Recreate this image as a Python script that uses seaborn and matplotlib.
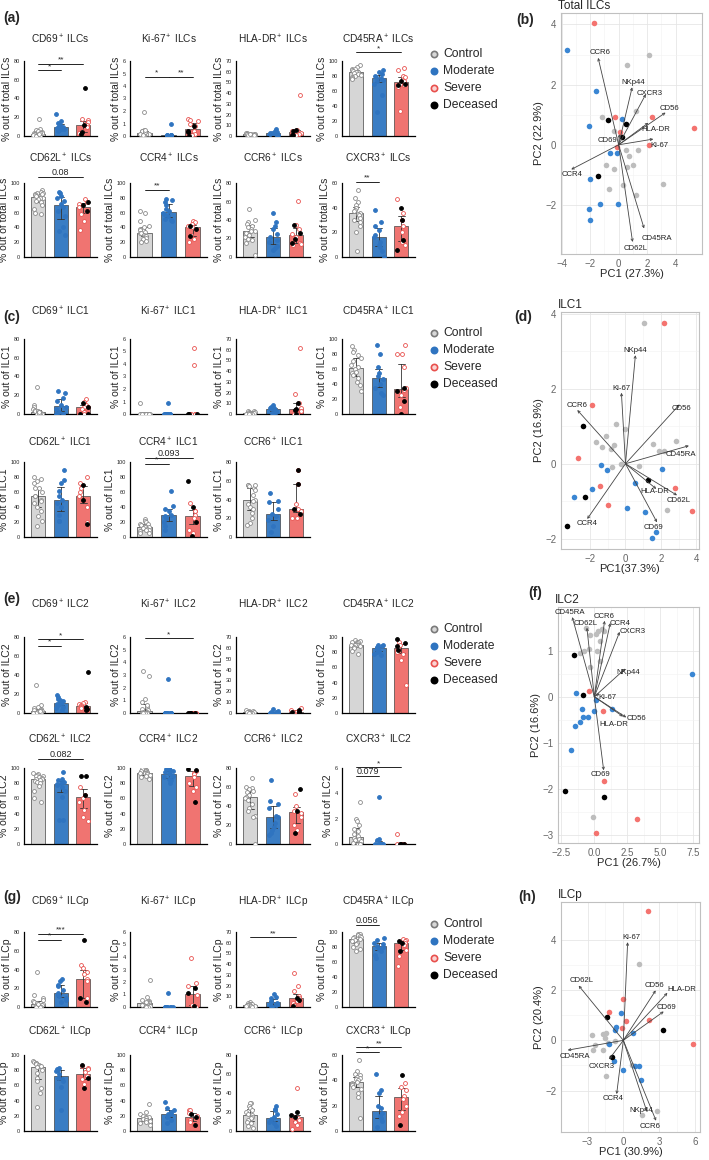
import numpy as np
import pandas as pd
import matplotlib
matplotlib.use("Agg")
import matplotlib.pyplot as plt
from matplotlib.lines import Line2D
import seaborn as sns

sns.set_style("white")
plt.rcParams['font.family'] = ['Liberation Sans', 'DejaVu Sans']
plt.rcParams['mathtext.fontset'] = 'custom'
plt.rcParams['mathtext.rm'] = 'Liberation Sans'
plt.rcParams['mathtext.it'] = 'Liberation Sans:italic'
plt.rcParams['mathtext.bf'] = 'Liberation Sans:bold'

W, H = 709, 1160
groups = ["Control", "Moderate", "Severe"]
bar_colors = ["#d6d6d6", "#3a7dc4", "#f07471"]

# ---- bar panel data: (control, moderate, severe alive, severe deceased) ----
ilcs_cd69 = ([18, 8, 6, 5, 4, 3, 3, 2, 2, 1, 1, 1, 0.5, 0.5, 3, 2],
             [24, 16, 14, 12, 11, 10, 10, 9, 8, 7, 6, 5],
             [18, 17, 15, 13, 12, 10, 5, 3], [51, 12, 4, 2])
ilcs_ki67 = ([1.9, 0.5, 0.4, 0.3, 0.3, 0.2, 0.2, 0.2, 0.1, 0.1, 0.1, 0.4, 0.3, 0.2, 0.5, 0.1],
             [1.0, 0.1, 0.05, 0.05, 0.05, 0.05, 0.05, 0.0, 0.0, 0.0],
             [1.4, 1.3, 1.2, 1.0, 0.8, 0.4, 0.2, 0.1], [0.8, 0.4, 0.3, 0.0])
ilcs_hladr = ([3, 2.5, 2, 2, 1.5, 1.5, 1, 1, 1, 0.5, 0.5, 2, 1, 1.5, 0.8],
              [7, 5, 4, 4, 3, 3, 2.5, 2, 2, 1.5, 1],
              [38, 6, 5, 4, 3, 2, 1], [6, 5, 1, 0.5])
ilcs_cd45ra = ([95, 92, 90, 90, 88, 87, 86, 85, 85, 84, 83, 82, 80, 79, 78, 76],
               [88, 86, 83, 80, 79, 77, 75, 74, 70, 55, 32],
               [91, 88, 80, 79, 74, 69, 68, 66, 33], [74, 70, 68])
ilcs_cd62l = ([90, 88, 87, 86, 85, 84, 82, 80, 80, 79, 76, 74, 70, 65, 60, 58, 85, 83],
              [88, 86, 82, 80, 76, 72, 68, 62, 55, 40, 35, 30],
              [78, 75, 72, 68, 62, 58, 48, 37], [75, 70, 62])
ilcs_ccr4 = ([62, 60, 48, 42, 40, 38, 36, 34, 33, 32, 30, 29, 28, 26, 24, 22, 20],
             [78, 77, 75, 70, 65, 62, 60, 58, 55, 52, 50, 48],
             [48, 47, 45, 42, 40, 30, 25, 20], [42, 38, 28])
ilcs_ccr6 = ([52, 40, 38, 36, 34, 30, 28, 26, 24, 22, 20, 18, 15, 32, 28, 2],
             [48, 38, 33, 30, 25, 22, 18, 16, 12, 10, 8],
             [61, 35, 30, 25, 22, 15, 14, 13], [35, 26, 20, 15])
ilcs_cxcr3 = ([54, 48, 45, 42, 40, 38, 37, 36, 35, 34, 32, 30, 28, 25, 20, 5],
              [38, 28, 25, 22, 18, 16, 12, 10, 8, 5, 0],
              [47, 36, 30, 25, 20, 12, 10], [40, 30, 14, 6])

ilc1_cd69 = ([29, 10, 8, 5, 4, 3, 3, 2, 1, 1, 0.5, 0, 0, 0, 2],
             [24, 22, 17, 14, 10, 8, 5, 2, 0, 0],
             [16, 13, 10, 8, 8, 5, 2, 0, 0], [12, 8, 0, 0])
ilc1_ki67 = ([0.9, 0, 0, 0, 0, 0, 0, 0, 0, 0, 0, 0, 0, 0],
             [0.9, 0, 0, 0, 0, 0, 0, 0, 0],
             [5.3, 3.9, 0, 0, 0, 0, 0], [0, 0, 0])
ilc1_hladr = ([3, 2.5, 2, 1.5, 1, 1, 0.5, 0.5, 0, 0, 0, 0],
              [8, 7, 6, 6, 6, 5, 4, 3, 2, 1, 0],
              [62, 19, 10, 6, 3, 1, 0, 0], [10, 5, 4, 0])
ilc1_cd45ra = ([90, 85, 82, 78, 74, 70, 65, 62, 60, 56, 55, 52, 48, 42, 38, 30],
               [92, 80, 62, 55, 50, 46, 40, 35, 28, 25],
               [92, 80, 80, 62, 35, 32, 25, 10], [35, 30, 18, 0])
ilc1_cd62l = ([80, 77, 75, 72, 65, 60, 55, 50, 48, 45, 40, 35, 28, 22, 15, 65, 55],
              [90, 76, 72, 62, 55, 50, 45, 40, 30, 22, 22],
              [80, 72, 65, 60, 55, 50, 40, 20], [70, 50, 18])
ilc1_ccr4 = ([24, 22, 20, 18, 17, 16, 15, 14, 13, 12, 11, 10, 9, 8, 6, 5],
             [61, 42, 38, 35, 30, 28, 25, 20, 15, 10],
             [45, 35, 35, 30, 25, 20, 10, 5], [75, 40, 20, 2])
ilc1_ccr6 = ([56, 55, 54, 52, 50, 45, 40, 38, 35, 32, 30, 26, 20, 15, 13, 55],
             [47, 38, 37, 30, 25, 22, 18, 12, 5],
             [72, 57, 35, 30, 28, 20, 20], [72, 57, 30, 25])

ilc2_cd69 = ([29, 8, 6, 5, 4, 3, 3, 2, 2, 1, 1, 0.5, 0.5, 0, 2],
             [19, 17, 15, 14, 13, 12, 11, 10, 9, 8, 6, 5, 3],
             [12, 11, 10, 8, 7, 6, 5], [43, 6, 4, 3])
ilc2_ki67 = ([3.3, 2.9, 1.1, 0.9, 0.5, 0.3, 0.2, 0.1, 0.05, 0, 0, 0, 0, 0, 0, 0.6],
             [2.7, 0, 0, 0, 0, 0, 0, 0, 0, 0],
             [0, 0, 0, 0, 0, 0], [0, 0, 0, 0])
ilc2_hladr = ([3, 2, 1.5, 1, 1, 0.5, 0.5, 0, 0, 0],
              [4, 2, 1, 0.5, 0, 0, 0, 0],
              [5, 3, 2, 1, 0.5, 0], [3, 1, 0.5, 0])
ilc2_cd45ra = ([96, 95, 94, 93, 93, 92, 91, 90, 90, 89, 88, 87, 85, 82, 78],
               [90, 89, 88, 87, 86, 85, 84, 82, 80, 78, 76],
               [93, 90, 86, 80, 78, 70, 37], [97, 92, 88, 83])
ilc2_cd62l = ([93, 92, 91, 90, 89, 88, 87, 86, 85, 84, 83, 82, 80, 76, 70, 60, 55],
              [95, 86, 84, 82, 80, 79, 78, 75, 70, 62, 32, 32],
              [75, 65, 60, 55, 45, 35, 30], [90, 90, 65])
ilc2_ccr4 = ([99, 98, 97, 96, 96, 95, 94, 93, 93, 92, 91, 90, 88, 86],
             [100, 99, 98, 96, 95, 93, 92, 90, 88, 86, 84, 80],
             [96, 94, 92, 88, 80, 75, 70], [99, 97, 55])
ilc2_ccr6 = ([70, 60, 59, 58, 56, 55, 52, 50, 48, 46, 42, 38, 35, 30, 28, 0],
             [67, 45, 42, 38, 30, 28, 22, 18, 15, 12, 10],
             [53, 40, 35, 33, 28, 20, 15], [58, 35, 12])
ilc2_cxcr3 = ([3.3, 2.0, 1.8, 1.5, 1.2, 1.0, 0.8, 0.6, 0.5, 0.4, 0.3, 0.2, 0.1, 0, 0, 0],
              [3.7, 0.4, 0.3, 0, 0, 0, 0, 0, 0, 0],
              [0.8, 0, 0, 0, 0, 0], [0, 0, 0])

ilcp_cd69 = ([37, 13, 10, 8, 6, 5, 4, 3, 2, 2, 1, 1, 0.5, 0, 0, 3],
             [30, 28, 24, 22, 18, 15, 13, 12, 10, 8, 5],
             [45, 42, 37, 35, 30, 28, 10, 5], [72, 10, 5])
ilcp_ki67 = ([2.2, 0.8, 0.6, 0.5, 0.4, 0.3, 0.3, 0.2, 0.2, 0.1, 0.1, 0.05, 0, 0, 0.4],
             [1.1, 0, 0, 0, 0, 0, 0, 0, 0, 0],
             [3.9, 1.9, 1.7, 1.0, 0.2, 0, 0], [1.5, 1.1, 0.1])
ilcp_hladr = ([5, 4, 3, 3, 2.5, 2, 2, 1.5, 1, 1, 0.5, 0],
              [12, 9, 8, 6, 5, 4, 3, 2, 1, 0],
              [32, 20, 15, 10, 8, 6, 4, 2], [8, 7, 1])
ilcp_cd45ra = ([98, 97, 96, 95, 94, 93, 92, 91, 90, 88, 86, 84, 80, 77, 75],
               [92, 89, 86, 84, 82, 80, 78, 75, 70, 66],
               [91, 90, 88, 86, 83, 76, 68, 55], [88, 86, 75])
ilcp_cd62l = ([92, 91, 90, 89, 88, 87, 86, 85, 84, 80, 76, 70, 66, 57, 50, 32],
              [83, 81, 80, 79, 75, 70, 68, 66, 58, 28],
              [85, 83, 82, 78, 72, 68, 62], [87, 70, 57])
ilcp_ccr4 = ([36, 25, 22, 20, 19, 18, 17, 16, 15, 14, 13, 12, 10, 8],
             [38, 30, 28, 25, 23, 22, 20, 18, 15, 10],
             [28, 27, 24, 20, 15, 12, 8], [22, 18, 8])
ilcp_ccr6 = ([30, 29, 26, 24, 22, 20, 18, 17, 15, 14, 12, 10, 8, 5, 3],
             [26, 23, 22, 18, 15, 13, 12, 10, 8, 5],
             [45, 16, 14, 12, 10, 6, 2], [20, 17, 15])
ilcp_cxcr3 = ([56, 47, 45, 44, 43, 42, 41, 40, 39, 38, 37, 36, 35, 33, 30, 27, 10],
              [45, 32, 30, 20, 18, 14, 12, 10, 8, 3],
              [38, 35, 32, 28, 25, 20, 15, 12], [44, 5])

# ---- PCA data (PC1, PC2) ----
b_gray = [(2.16, 2.97), (0.58, 2.66), (-1.16, 0.94), (1.21, 1.13), (-0.35, 0.45), (0.53, -0.16),
          (0.70, -0.36), (1.37, -0.16), (-0.88, -0.68), (-0.35, -0.79), (1.0, -0.66), (0.58, -0.74),
          (-0.67, -1.47), (0.30, -1.35), (1.19, -1.68), (3.09, -1.30)]
b_blue = [(-3.6, 3.14), (-1.60, 1.79), (-2.09, 0.61), (0.26, 0.86), (-0.63, -0.26), (-0.12, -0.28),
          (-1.98, -1.15), (-1.28, -1.98), (-0.07, -1.98), (-2.07, -2.13), (-1.98, -2.50)]
b_red = [(-1.70, 4.04), (-0.28, 0.94), (0.12, 0.44), (-0.09, -0.09), (2.35, 0.92), (2.16, 0.0), (5.30, 0.55)]
b_black = [(-0.72, 0.83), (0.49, 0.69), (0.21, 0.25), (-1.44, -1.04)]
b_arrows = [("CCR6", -1.44, 2.89, -1.28, 3.07), ("NKp44", 0.95, 1.91, 1.05, 2.07),
            ("CXCR3", 1.91, 1.68, 2.21, 1.72), ("CD56", 3.30, 1.07, 3.60, 1.22),
            ("HLA-DR", 2.09, 0.73, 2.60, 0.50), ("Ki-67", 2.44, 0.19, 2.86, -0.03),
            ("CD69", 0.05, 0.35, -0.81, 0.15), ("CCR4", -3.33, -0.82, -3.26, -0.98),
            ("CD45RA", 1.79, -2.78, 2.72, -3.11), ("CD62L", 0.98, -3.23, 1.16, -3.44)]

d_gray = [(1.05, 3.75), (-0.51, 1.06), (0, 0.92), (-1.11, 0.73), (-1.67, 0.59), (-0.64, 0.50),
          (-1.33, 0.44), (-0.83, 0.39), (1.54, 0.52), (1.88, 0.34), (2.18, 0.34), (2.85, 0.61),
          (-0.24, -0.02), (-0.75, -0.10), (0.77, -0.07), (2.36, -1.23)]
d_blue = [(-1.41, -0.03), (-1.07, -0.17), (-1.89, -0.68), (-2.91, -0.88), (0.51, -0.50), (2.06, -0.13),
          (0.11, -1.18), (1.09, -1.29), (1.71, -1.81), (1.50, -1.99)]
d_red = [(2.18, 3.75), (-1.89, 1.57), (-2.70, 0.15), (-1.46, -0.58), (-0.96, -1.09), (2.78, -0.64), (3.77, -1.25)]
d_black = [(-2.38, 1.01), (-2.27, -0.88), (1.28, -0.42), (-3.30, -1.65)]
d_arrows = [("NKp44", 0.56, 2.89, 0.53, 3.01), ("Ki-67", -0.23, 1.89, -0.23, 2.01),
            ("CCR6", -2.72, 1.43, -2.76, 1.55), ("CD56", 3.06, 1.58, 3.15, 1.46),
            ("CD45RA", 3.58, 0.48, 3.15, 0.24), ("HLA-DR", 1.74, -0.67, 1.65, -0.74),
            ("CD62L", 2.91, -0.84, 3.00, -0.97), ("CD69", 1.78, -1.56, 1.59, -1.71),
            ("CCR4", -2.16, -1.47, -2.14, -1.58)]

f_gray = [(-0.66, 1.50), (-0.35, 1.34), (0.28, 1.43), (0.73, 1.43), (0.40, 1.21), (-1.11, 0.94),
          (-0.81, 0.99), (-0.40, 1.03), (0.20, 1.00), (0.45, 0.77), (-0.35, 0.64), (0.58, 1.47),
          (0.15, 1.37), (-0.10, -2.61)]
f_blue = [(7.42, 0.49), (-1.41, 0.07), (0.13, -0.07), (-0.91, -0.26), (-0.03, -0.30), (1.36, -0.26),
          (-0.86, -0.45), (-0.48, -0.45), (-1.09, -0.56), (-1.44, -0.64), (-1.77, -1.15)]
f_red = [(-0.43, 0.12), (0.68, -0.32), (0.73, -1.83), (3.21, -2.66), (0.13, -2.96)]
f_black = [(-1.57, 0.90), (-0.83, 0.04), (0.73, -2.17), (-2.20, -2.05)]
f_arrows = [("CD45RA", -1.67, 1.73, -1.87, 1.83), ("CD62L", -0.56, 1.50, -0.66, 1.59),
            ("CCR6", 0.78, 1.65, 0.71, 1.75), ("CCR4", 1.21, 1.60, 1.92, 1.59),
            ("CXCR3", 1.92, 1.41, 2.93, 1.41), ("NKp44", 2.35, 0.61, 2.55, 0.52),
            ("Ki-67", 0.40, 0.07, 0.96, -0.01), ("CD56", 2.42, -0.45, 3.18, -0.47),
            ("HLA-DR", 2.17, -0.43, 1.49, -0.60), ("CD69", 0.71, -1.60, 0.45, -1.70)]

h_gray = [(1.31, 3.06), (-2.60, 0.22), (-1.73, 0.27), (-1.48, 0.30), (-1.56, 0.10), (-2.40, -0.17),
          (-2.57, -0.38), (-1.73, -0.37), (-1.28, -0.09), (-0.70, -0.04), (0.70, -0.98),
          (-1.48, -1.41), (1.54, -2.97), (2.79, -2.82)]
h_blue = [(-0.17, 1.08), (-0.59, 0.55), (-0.67, 0.42), (-1.23, -0.13), (0.81, 0.30), (-0.81, -0.83),
          (0, -1.17), (1.01, -1.04), (1.31, -1.04), (1.45, -1.58)]
h_red = [(2.04, 5.14), (0, 1.63), (-1.23, 1.13), (0.20, 0.77), (-0.11, 0.51), (2.18, 0.81), (5.87, -0.13)]
h_black = [(-1.40, 0.94), (3.30, 0.40), (-0.92, -0.65)]
h_arrows = [("Ki-67", 0.36, 3.91, 0.70, 4.11), ("CD62L", -3.74, 2.18, -3.49, 2.37),
            ("CD56", 2.71, 1.99, 2.57, 2.19), ("HLA-DR", 3.69, 1.89, 4.89, 2.02),
            ("CD69", 3.38, 1.15, 3.63, 1.30), ("CD45RA", -4.66, -0.39, -4.05, -0.65),
            ("CXCR3", -1.20, -0.76, -1.82, -1.04), ("CCR4", -0.56, -2.14, -0.84, -2.32),
            ("NKp44", 1.96, -2.82, 1.54, -2.80), ("CCR6", 2.74, -3.20, 2.23, -3.43)]

fig = plt.figure(figsize=(W / 100, H / 100), dpi=100)


def px_axes(x0, y0, x1, y1):
    return fig.add_axes([x0 / W, 1 - y1 / H, (x1 - x0) / W, (y1 - y0) / H])


def bar_panel(ax, data, ymax, step, ylabel, brackets):
    ctrl, mod, sev, dec = data
    df = pd.DataFrame({
        "group": ["Control"] * len(ctrl) + ["Moderate"] * len(mod) + ["Severe"] * (len(sev) + len(dec)),
        "value": list(ctrl) + list(mod) + list(sev) + list(dec),
        "status": ["Control"] * len(ctrl) + ["Moderate"] * len(mod) + ["Severe"] * len(sev) + ["Deceased"] * len(dec),
    })
    sns.barplot(data=df, x="group", y="value", hue="group", order=groups, hue_order=groups,
                palette=bar_colors, saturation=1, estimator="median", errorbar=("pi", 50), capsize=0.3,
                width=0.62, edgecolor="#444444", linewidth=0.5,
                err_kws={"linewidth": 0.6, "color": "#333333"}, legend=False, ax=ax)
    styles = {"Control": ("white", "#8a8a8a"), "Moderate": ("#2f74c0", "#2f74c0"),
              "Severe": ("white", "#e8504d"), "Deceased": ("black", "black")}
    for st, (face, edge) in styles.items():
        sub = df[df.status == st]
        if len(sub) == 0:
            continue
        sns.stripplot(data=sub, x="group", y="value", order=groups, color=face, edgecolor=edge,
                      linewidth=0.6, size=2.8, jitter=0.22, ax=ax, zorder=3)
    ax.set_ylim(0, ymax)
    ax.set_yticks(np.arange(0, ymax + 1e-9, step))
    ax.set_xlim(-0.62, 2.6)
    ax.set_xticks([])
    ax.set_xlabel("")
    ax.set_ylabel(ylabel, fontsize=7.5, labelpad=1)
    ax.tick_params(axis="y", labelsize=4, length=2, width=0.6, pad=1)
    sns.despine(ax=ax)
    for sp in ["left", "bottom"]:
        ax.spines[sp].set_linewidth(0.9)
        ax.spines[sp].set_color("black")
    for i, j, y, lab in brackets:
        ax.plot([i, j], [y, y], color="black", lw=0.6, clip_on=False)
        ax.text((i + j) / 2, y, lab, ha="center", va="bottom",
                fontsize=6 if "*" in lab else 6.5, clip_on=False)


col_x = [(24, 97), (130, 207), (236, 310), (342, 415)]

sections = [
    ("ILCs", "% out of total ILCs", [(61, 136, 39), (183, 257, 158)], [
        [("CD69", ilcs_cd69, 80, 20, [(0, 1, 70, "*"), (0, 2, 77, "**")]),
         ("Ki-67", ilcs_ki67, 6, 1, [(0, 1, 4.75, "*"), (1, 2, 4.75, "**")]),
         ("HLA-DR", ilcs_hladr, 70, 10, []),
         ("CD45RA", ilcs_cd45ra, 100, 20, [(0, 2, 112, "*")])],
        [("CD62L", ilcs_cd62l, 100, 20, [(0, 2, 108, "0.08")]),
         ("CCR4", ilcs_ccr4, 100, 20, [(0, 1, 91, "**")]),
         ("CCR6", ilcs_ccr6, 80, 20, []),
         ("CXCR3", ilcs_cxcr3, 60, 20, [(0, 1, 61, "**")])]]),
    ("ILC1", "% out of ILC1", [(339, 414, 311), (462, 537, 442)], [
        [("CD69", ilc1_cd69, 80, 20, []), ("Ki-67", ilc1_ki67, 6, 1, []),
         ("HLA-DR", ilc1_hladr, 70, 10, []), ("CD45RA", ilc1_cd45ra, 100, 20, [])],
        [("CD62L", ilc1_cd62l, 100, 20, []),
         ("CCR4", ilc1_ccr4, 100, 20, [(0, 1, 98, "*"), (0, 2, 105, "0.093")]),
         ("CCR6", ilc1_ccr6, 80, 20, [])]]),
    ("ILC2", "% out of ILC2", [(637, 713, 604), (768, 844, 739)], [
        [("CD69", ilc2_cd69, 80, 20, [(0, 1, 71, "*"), (0, 2, 78, "*")]),
         ("Ki-67", ilc2_ki67, 6, 1, [(0, 2, 5.9, "*")]),
         ("HLA-DR", ilc2_hladr, 70, 10, []),
         ("CD45RA", ilc2_cd45ra, 100, 20, [])],
        [("CD62L", ilc2_cd62l, 100, 20, [(0, 2, 112, "0.082")]),
         ("CCR4", ilc2_ccr4, 100, 20, []),
         ("CCR6", ilc2_ccr6, 80, 20, []),
         ("CXCR3", ilc2_cxcr3, 6, 2, [(0, 1, 5.4, "0.079"), (0, 2, 6.05, "*")])]]),
    ("ILCp", "% out of ILCp", [(932, 1007, 902), (1055, 1131, 1032)], [
        [("CD69", ilcp_cd69, 80, 20, [(0, 1, 72, "*"), (0, 2, 78, "***")]),
         ("Ki-67", ilcp_ki67, 6, 1, []),
         ("HLA-DR", ilcp_hladr, 70, 10, [(0, 2, 65, "**")]),
         ("CD45RA", ilcp_cd45ra, 100, 20, [(0, 1, 109, "0.056")])],
        [("CD62L", ilcp_cd62l, 100, 20, []),
         ("CCR4", ilcp_ccr4, 100, 20, []),
         ("CCR6", ilcp_ccr6, 80, 20, []),
         ("CXCR3", ilcp_cxcr3, 60, 20, [(0, 1, 62, "*"), (0, 2, 66, "**")])]]),
]

np.random.seed(3)
for cell, ylab, rows, panels in sections:
    for (top, bot, ty), row in zip(rows, panels):
        for (x0, x1), (mk, data, ymax, step, br) in zip(col_x, row):
            ax = px_axes(x0, top, x1, bot)
            bar_panel(ax, data, ymax, step, ylab, br)
            fig.text((x0 + x1) / 2 / W, 1 - ty / H, f"{mk}$^+$ {cell}", ha="center", va="center", fontsize=7.3)

# legends
legend_items = [("Control", "#d8d8d8", "#7a7a7a"), ("Moderate", "#2f74c0", "#2f74c0"),
                ("Severe", "#fbd3d2", "#e8504d"), ("Deceased", "black", "black")]
for y0 in [54, 333, 629, 924]:
    for k, (lab, face, edge) in enumerate(legend_items):
        yy = 1 - (y0 + 17 * k) / H
        fig.add_artist(Line2D([434 / W], [yy], marker="o", ms=4.5, mfc=face, mec=edge, mew=1.2,
                              transform=fig.transFigure))
        fig.text(443 / W, yy, lab, va="center", ha="left", fontsize=8.7)

# panel letters
for lab, x, y in [("(a)", 3, 18), ("(c)", 3, 317), ("(e)", 3, 599), ("(g)", 3, 897),
                  ("(b)", 516, 20), ("(d)", 514, 317), ("(f)", 528, 593), ("(h)", 518, 897)]:
    fig.text(x / W, 1 - y / H, lab, fontsize=10, fontweight="bold", va="center", ha="left")


def pca_panel(ax, pts, arrows, xlim, ylim, xticks, yticks, xlab, ylab, title, xfmt=None):
    ax.set_facecolor("white")
    for p, c in zip(pts, ["#bdbdbd", "#3a86d3", "#f4736f", "black"]):
        xs, ys = zip(*p)
        sns.scatterplot(x=list(xs), y=list(ys), color=c, s=16, linewidth=0, ax=ax, zorder=3)
    for name, ex, ey, lx, ly in arrows:
        ax.annotate("", xy=(ex, ey), xytext=(0, 0),
                    arrowprops=dict(arrowstyle="->", lw=0.6, color="#444444",
                                    shrinkA=0, shrinkB=0, mutation_scale=4), zorder=4)
        ax.text(lx, ly, name, fontsize=5.6, ha="center", va="center", color="#222222", zorder=5)
    ax.set_xlim(*xlim)
    ax.set_ylim(*ylim)
    ax.set_xticks(xticks)
    ax.set_yticks(yticks)
    if xfmt:
        ax.set_xticklabels(xfmt)
    ax.set_xticks([(a + b) / 2 for a, b in zip(xticks[:-1], xticks[1:])], minor=True)
    ax.set_yticks([(a + b) / 2 for a, b in zip(yticks[:-1], yticks[1:])], minor=True)
    ax.grid(True, which="major", color="#e6e6e6", lw=0.6)
    ax.grid(True, which="minor", color="#f2f2f2", lw=0.4)
    ax.set_axisbelow(True)
    for sp in ax.spines.values():
        sp.set_color("#c0c0c0")
        sp.set_linewidth(0.8)
    ax.tick_params(which="major", labelsize=7, colors="#666666", length=2, width=0.6, pad=1.5)
    ax.tick_params(which="minor", length=0)
    ax.set_xlabel(xlab, fontsize=8, labelpad=0)
    ax.set_ylabel(ylab, fontsize=8, labelpad=1)
    ax.set_title(title, loc="left", fontsize=8.5, pad=3, x=-0.02)


pca_panel(px_axes(561, 13, 702, 254), [b_gray, b_blue, b_red, b_black], b_arrows,
          (-4.05, 5.86), (-3.63, 4.38), [-4, -2, 0, 2, 4], [-2, 0, 2, 4],
          "PC1 (27.3%)", "PC2 (22.9%)", "Total ILCs")
pca_panel(px_axes(561, 312, 699, 549), [d_gray, d_blue, d_red, d_black], d_arrows,
          (-3.64, 4.15), (-2.27, 4.04), [-2, 0, 2, 4], [-2, 0, 2, 4],
          "PC1(37.3%)", "PC2 (16.9%)", "ILC1")
pca_panel(px_axes(558, 607, 699, 843), [f_gray, f_blue, f_red, f_black], f_arrows,
          (-2.75, 7.93), (-3.18, 1.95), [-2.5, 0, 2.5, 5, 7.5], [-3, -2, -1, 0, 1],
          "PC1 (26.7%)", "PC2 (16.6%)", "ILC2", xfmt=["\u22122.5", "0.0", "2.5", "5.0", "7.5"])
pca_panel(px_axes(561, 902, 700, 1132), [h_gray, h_blue, h_red, h_black], h_arrows,
          (-5.22, 6.42), (-3.65, 5.51), [-3, 0, 3, 6], [-2, 0, 2, 4],
          "PC1 (30.9%)", "PC2 (20.4%)", "ILCp")

fig.savefig("out.png", dpi=100, facecolor="white")
